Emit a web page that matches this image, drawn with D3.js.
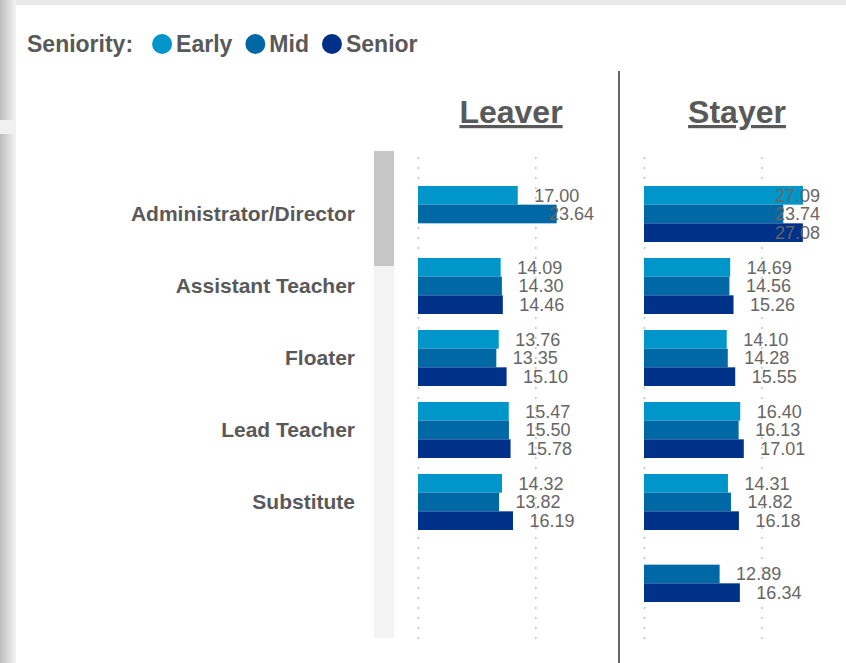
<!DOCTYPE html>
<html>
<head>
<meta charset="utf-8">
<script src="https://cdn.jsdelivr.net/npm/d3@7"></script>
<style>
  body { margin: 0; background: #fff; }
  svg { display: block; font-family: "Liberation Sans", Arial, sans-serif; }
</style>
</head>
<body>
<div id="chart"></div>
<script>
var width = 846, height = 663;

var categories = ["Administrator/Director", "Assistant Teacher", "Floater", "Lead Teacher", "Substitute", ""];
var seniority = ["Early", "Mid", "Senior"];
var panels = ["Leaver", "Stayer"];
var colors = ["#0096c9", "#0068a4", "#003188"];

// hourly values per category, in order Early, Mid, Senior (null = no bar)
var leaverValues = [
    [17.00, 23.64, null],
    [14.09, 14.30, 14.46],
    [13.76, 13.35, 15.10],
    [15.47, 15.50, 15.78],
    [14.32, 13.82, 16.19],
    [null, null, null]
];
var stayerValues = [
    [27.09, 23.74, 27.08],
    [14.69, 14.56, 15.26],
    [14.10, 14.28, 15.55],
    [16.40, 16.13, 17.01],
    [14.31, 14.82, 16.18],
    [null, 12.89, 16.34]
];
var gridTicks = [0, 20];

var svg = d3.select("#chart").append("svg")
    .attr("width", width)
    .attr("height", height);

// page frame bits (left gutter and top strip)
var defs = svg.append("defs");
var grad = defs.append("linearGradient").attr("id", "gutter");
grad.append("stop").attr("offset", "0%").attr("stop-color", "#bdbdbd");
grad.append("stop").attr("offset", "60%").attr("stop-color", "#dedede");
grad.append("stop").attr("offset", "100%").attr("stop-color", "#f4f4f4");
svg.append("rect").attr("x", 0).attr("y", 0).attr("width", 16).attr("height", height)
    .attr("fill", "url(#gutter)");
svg.append("rect").attr("x", 0).attr("y", 120).attr("width", 16).attr("height", 14)
    .attr("fill", "#f0f0f0");
svg.append("rect").attr("x", 16).attr("y", 0).attr("width", width - 16).attr("height", 5)
    .attr("fill", "#e9e9e9");

// legend
var legend = svg.append("g").attr("transform", "translate(27,52)");
var lx = legend.append("text")
    .attr("x", 0)
    .style("font-size", "23px").style("font-weight", "bold").attr("fill", "#595959")
    .text("Seniority:").node().getComputedTextLength() + 19;
seniority.forEach(function(s, i) {
    legend.append("circle")
        .attr("cx", lx + 10).attr("cy", -8).attr("r", 10)
        .attr("fill", colors[i]);
    var w = legend.append("text")
        .attr("x", lx + 24)
        .style("font-size", "23px").style("font-weight", "bold").attr("fill", "#595959")
        .text(s).node().getComputedTextLength();
    lx = lx + 24 + w + 13;
});

// scales
var y = d3.scaleBand()
    .domain(categories)
    .range([178, 610])
    .paddingInner(2 / 9)
    .paddingOuter(1 / 9);

var ySub = d3.scaleBand()
    .domain(seniority)
    .range([0, y.bandwidth()]);

var x = d3.scaleLinear()
    .domain([0, 30])
    .range([0, 176]);

// category labels
svg.append("g").selectAll("text")
    .data(categories)
    .enter().append("text")
    .attr("x", 355)
    .attr("y", function(d) { return y(d) + y.bandwidth() / 2; })
    .attr("dy", "0.35em")
    .attr("text-anchor", "end")
    .style("font-size", "21px").style("font-weight", "bold")
    .attr("fill", "#595959")
    .text(function(d) { return d; });

// scrollbar
svg.append("rect").attr("x", 374).attr("y", 151).attr("width", 20).attr("height", 487).attr("fill", "#f3f3f3");
svg.append("rect").attr("x", 374).attr("y", 151).attr("width", 20).attr("height", 115).attr("fill", "#c6c6c6");

// divider between panels
svg.append("line")
    .attr("x1", 619).attr("x2", 619).attr("y1", 71).attr("y2", height)
    .attr("stroke", "#666").attr("stroke-width", 2);

var panelX = [418, 644];
var panelData = [leaverValues, stayerValues];

panels.forEach(function(name, p) {
    var g = svg.append("g").attr("transform", "translate(" + panelX[p] + ",0)");

    g.append("text")
        .attr("x", 93).attr("y", 123)
        .attr("text-anchor", "middle")
        .style("font-size", "32px").style("font-weight", "bold")
        .style("text-decoration", "underline")
        .attr("fill", "#595959")
        .text(name);

    // dotted gridlines
    g.selectAll(".grid")
        .data(gridTicks)
        .enter().append("line")
        .attr("class", "grid")
        .attr("x1", function(d) { return x(d) + 0.5; })
        .attr("x2", function(d) { return x(d) + 0.5; })
        .attr("y1", 157).attr("y2", 640)
        .attr("stroke", "#c4c4c4")
        .attr("stroke-width", 1.5)
        .attr("stroke-dasharray", "2,8");

    var rows = [];
    categories.forEach(function(c, ci) {
        seniority.forEach(function(s, si) {
            var v = panelData[p][ci][si];
            if (v !== null) rows.push({ cat: c, sen: s, i: si, value: v });
        });
    });

    g.selectAll(".bar")
        .data(rows)
        .enter().append("rect")
        .attr("class", "bar")
        .attr("x", x(0))
        .attr("y", function(d) { return y(d.cat) + ySub(d.sen); })
        .attr("width", function(d) { return x(d.value) - x(0); })
        .attr("height", ySub.bandwidth())
        .attr("fill", function(d) { return colors[d.i]; });

    g.selectAll(".lbl")
        .data(rows)
        .enter().append("text")
        .attr("class", "lbl")
        .attr("y", function(d) { return y(d.cat) + ySub(d.sen) + ySub.bandwidth() / 2; })
        .attr("dy", "0.36em")
        .attr("text-anchor", "end")
        .style("font-size", "18px")
        .attr("fill", "#666")
        .text(function(d) { return d.value.toFixed(2); })
        .each(function(d) {
            var w = this.getComputedTextLength();
            d3.select(this).attr("x", Math.min(x(d.value) + 16.5 + w, 176));
        });
});
</script>
</body>
</html>
